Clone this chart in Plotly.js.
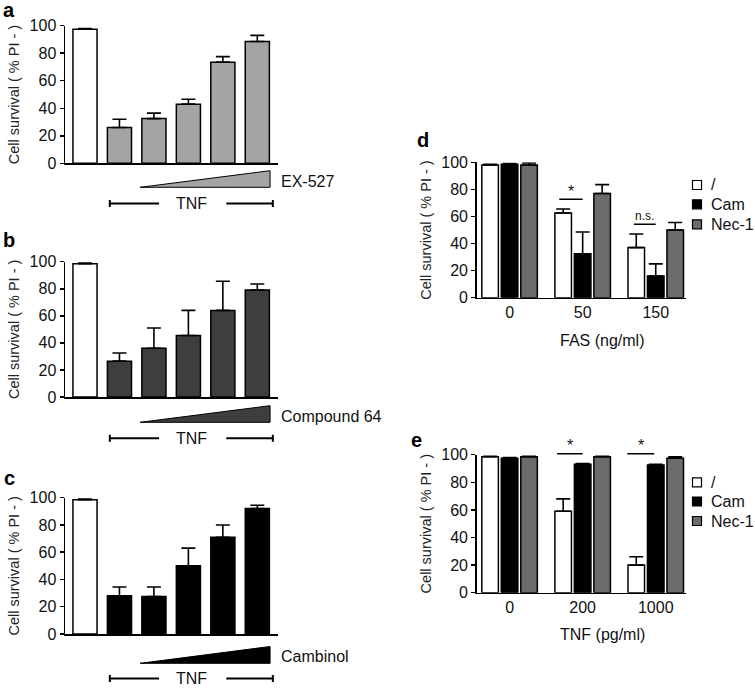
<!DOCTYPE html>
<html><head><meta charset="utf-8">
<script src="https://cdn.plot.ly/plotly-3.0.1.min.js"></script>
<style>html,body{margin:0;padding:0;background:#fff}#chart{width:755px;height:688px}</style>
</head><body><div id="chart"></div>
<script>
// ---------- data ----------
const conditions = ['Control', 'TNF', 'TNF + dose 1', 'TNF + dose 2', 'TNF + dose 3', 'TNF + dose 4'];
const exMeans   = [97.5, 26, 32.5, 43, 73.5, 88.5];
const exErr     = [0.5, 6, 4, 3.5, 4, 4.5];
const c64Means  = [98.5, 26.5, 36, 45.5, 64, 79];
const c64Err    = [0.5, 6, 15, 18.5, 21.5, 4.5];
const camMeans  = [98.5, 28, 27.5, 50, 71, 92];
const camErr    = [0.5, 6.5, 7, 13, 9, 2.5];

const groupNames = ['/', 'Cam', 'Nec-1'];
const fasDoses   = ['0', '50', '150'];
const fasNone    = [98, 62.5, 37];
const fasNoneErr = [0.5, 3, 10];
const fasCam     = [98.5, 32.5, 16];
const fasCamErr  = [0.5, 16, 9];
const fasNec     = [98, 77, 50];
const fasNecErr  = [1.5, 6.5, 5.5];

const tnfDoses   = ['0', '200', '1000'];
const tnfNone    = [98.5, 59, 20];
const tnfNoneErr = [0.3, 9, 6];
const tnfCam     = [97.5, 93, 92.5];
const tnfCamErr  = [0.5, 0.6, 0.5];
const tnfNec     = [98.5, 98.5, 97.5];
const tnfNecErr  = [0.3, 0.3, 1];

const yTicks = [0, 20, 40, 60, 80, 100];

// ---------- helpers ----------
const W = 755, H = 688;
const FONT = 'Liberation Sans, Arial, Helvetica, sans-serif';
const px = p => p / W;
const py = p => 1 - p / H;
const zeros = n => new Array(n).fill(0);

const colA = '#a4a4a4', colB = '#3e3e3e', colC = '#000000', colNec = '#6b6b6b';
const groupColors = ['#ffffff', '#000000', colNec];

function errBar(arr) {
  return {type: 'data', symmetric: false, array: arr, arrayminus: zeros(arr.length),
          color: '#000', thickness: 1.6, width: 7};
}
function singleBars(means, err, color, ax) {
  return {
    type: 'bar', x: conditions, y: means, xaxis: 'x' + ax, yaxis: 'y' + ax,
    width: 0.7, showlegend: false,
    marker: {color: means.map((v, i) => i === 0 ? '#ffffff' : color), line: {color: '#000', width: 1.5}},
    error_y: errBar(err), hoverinfo: 'x+y'
  };
}
function groupBars(cats, means, err, gi, ax) {
  return {
    type: 'bar', x: cats, y: means, name: groupNames[gi], xaxis: 'x' + ax, yaxis: 'y' + ax,
    showlegend: false, marker: {color: groupColors[gi], line: {color: '#000', width: 1.5}},
    error_y: errBar(err)
  };
}

const data = [
  singleBars(exMeans, exErr, colA, ''),
  singleBars(c64Means, c64Err, colB, '2'),
  singleBars(camMeans, camErr, colC, '3'),
  groupBars(fasDoses, fasNone, fasNoneErr, 0, '4'),
  groupBars(fasDoses, fasCam, fasCamErr, 1, '4'),
  groupBars(fasDoses, fasNec, fasNecErr, 2, '4'),
  groupBars(tnfDoses, tnfNone, tnfNoneErr, 0, '5'),
  groupBars(tnfDoses, tnfCam, tnfCamErr, 1, '5'),
  groupBars(tnfDoses, tnfNec, tnfNecErr, 2, '5'),
];

function yAx(domain, anchor) {
  return {
    domain: domain, anchor: anchor, range: [0, 100], tickvals: yTicks, ticks: 'outside', ticklen: 4, tickwidth: 1.5,
    tickcolor: '#000', showline: true, linecolor: '#000', linewidth: 1.5, showgrid: false, zeroline: false,
    tickfont: {size: 16, color: '#111'}, automargin: false,
    title: {text: 'Cell survival ( % PI - )', font: {size: 14.5, color: '#222'}, standoff: 6},
    fixedrange: true
  };
}
function xAx(domain, anchor, range, showLabels) {
  return {
    domain: domain, anchor: anchor, range: range, type: 'category', showline: true, linecolor: '#000', linewidth: 1.5,
    ticks: '', showgrid: false, zeroline: false, showticklabels: showLabels, automargin: false,
    tickfont: {size: 16, color: '#111'}, fixedrange: true
  };
}

const xLeft = [px(65), px(278)];
const xRight = [px(476.7), px(685.7)];
const rangeLeft = [-0.58, 5.6];
const rangeRight = [-0.45, 2.41];

const layout = {
  width: W, height: H, margin: {l: 0, r: 0, t: 0, b: 0, autoexpand: false},
  paper_bgcolor: '#fff', plot_bgcolor: 'rgba(0,0,0,0)',
  font: {family: FONT, color: '#111'}, showlegend: false,
  barmode: 'group', bargap: 0.2, bargroupgap: 0.15,
  xaxis: xAx(xLeft, 'y', rangeLeft, false), yaxis: yAx([py(163.3), py(25.7)], 'x'),
  xaxis2: xAx(xLeft, 'y2', rangeLeft, false), yaxis2: yAx([py(397), py(261.7)], 'x2'),
  xaxis3: xAx(xLeft, 'y3', rangeLeft, false), yaxis3: yAx([py(634), py(497.7)], 'x3'),
  xaxis4: xAx(xRight, 'y4', rangeRight, true), yaxis4: yAx([py(297.7), py(162.3)], 'x4'),
  xaxis5: xAx(xRight, 'y5', rangeRight, true), yaxis5: yAx([py(592.7), py(454.7)], 'x5'),
  shapes: [], annotations: []
};

// wedges, TNF brackets, agent labels for panels a-c
const leftPanels = [
  {ax: 'x', color: colA, label: 'EX-527', wedgeTop: 170.7, wedgeBottom: 187.3, labelY: 181.7, tnfY: 203.5},
  {ax: 'x2', color: colB, label: 'Compound 64', wedgeTop: 405.7, wedgeBottom: 422.3, labelY: 416.7, tnfY: 438.3},
  {ax: 'x3', color: colC, label: 'Cambinol', wedgeTop: 646.5, wedgeBottom: 663.3, labelY: 656.7, tnfY: 678.5},
];
leftPanels.forEach(p => {
  const x0 = 1.6, x1 = 5.37;
  layout.shapes.push({type: 'path', xref: p.ax, yref: 'paper',
    path: `M${x0},${py(p.wedgeBottom)} L${x1},${py(p.wedgeBottom)} L${x1},${py(p.wedgeTop)} Z`,
    fillcolor: p.color, line: {color: '#000', width: 1}});
  const yT = py(p.tnfY), cap = 3.5 / H;
  [[0.72, 2.15], [4.1, 5.45]].forEach(seg => {
    layout.shapes.push({type: 'line', xref: p.ax, yref: 'paper', x0: seg[0], x1: seg[1], y0: yT, y1: yT,
      line: {color: '#000', width: 2}});
  });
  [0.72, 5.45].forEach(xe => {
    layout.shapes.push({type: 'line', xref: p.ax, yref: 'paper', x0: xe, x1: xe, y0: yT - cap, y1: yT + cap,
      line: {color: '#000', width: 2}});
  });
  layout.annotations.push({xref: p.ax, yref: 'paper', x: 3.1, y: yT, text: 'TNF', showarrow: false,
    font: {size: 16, color: '#111'}, xanchor: 'center', yanchor: 'middle'});
  layout.annotations.push({xref: 'paper', yref: 'paper', x: px(279), y: py(p.labelY), text: p.label,
    showarrow: false, font: {size: 16, color: '#111'}, xanchor: 'left', yanchor: 'middle'});
});

// significance marks (y given as fraction of the 0-100 axis domain)
const sigMarks = [
  {ax: '4', x0: 0.68, x1: 1.0, y: 72.7, label: '*', ly: 78.5, size: 16},
  {ax: '4', x0: 1.70, x1: 2.0, y: 54.2, label: 'n.s.', ly: 60.5, size: 12},
  {ax: '5', x0: 0.65, x1: 1.0, y: 100.7, label: '*', ly: 106.5, size: 16},
  {ax: '5', x0: 1.61, x1: 1.98, y: 100.7, label: '*', ly: 106.5, size: 16},
];
sigMarks.forEach(s => {
  layout.shapes.push({type: 'line', xref: 'x' + s.ax, yref: 'y' + s.ax + ' domain', x0: s.x0, x1: s.x1,
    y0: s.y / 100, y1: s.y / 100, line: {color: '#000', width: 1.5}});
  layout.annotations.push({xref: 'x' + s.ax, yref: 'y' + s.ax + ' domain', x: (s.x0 + s.x1) / 2, y: s.ly / 100,
    text: s.label, showarrow: false, font: {size: s.size, color: '#111'}, xanchor: 'center', yanchor: 'middle'});
});

// hand-drawn legends for d and e
[[185, 204.3, 224.3], [482.3, 501.5, 521]].forEach(rows => {
  rows.forEach((ry, gi) => {
    layout.shapes.push({type: 'rect', xref: 'paper', yref: 'paper',
      x0: px(692.5), x1: px(701.5), y0: py(ry + 4.5), y1: py(ry - 4.5),
      fillcolor: groupColors[gi], line: {color: '#000', width: 1.2}});
    layout.annotations.push({xref: 'paper', yref: 'paper', x: px(709), y: py(ry), text: groupNames[gi],
      showarrow: false, font: {size: 16, color: '#111'}, xanchor: 'left', yanchor: 'middle'});
  });
});

// x-axis titles for d and e
layout.annotations.push({xref: 'paper', yref: 'paper', x: px(601.5), y: py(340), text: 'FAS (ng/ml)',
  showarrow: false, font: {size: 16, color: '#111'}, xanchor: 'center', yanchor: 'middle'});
layout.annotations.push({xref: 'paper', yref: 'paper', x: px(602), y: py(634), text: 'TNF (pg/ml)',
  showarrow: false, font: {size: 16, color: '#111'}, xanchor: 'center', yanchor: 'middle'});

// panel letters
[['a', 9, 10], ['b', 9, 240], ['c', 9, 478], ['d', 423, 140], ['e', 416, 440]].forEach(l => {
  layout.annotations.push({xref: 'paper', yref: 'paper', x: px(l[1]), y: py(l[2]), text: '<b>' + l[0] + '</b>',
    showarrow: false, font: {size: 20, color: '#000'}, xanchor: 'center', yanchor: 'middle'});
});

Plotly.newPlot('chart', data, layout, {displayModeBar: false, staticPlot: true});
</script>
</body></html>
